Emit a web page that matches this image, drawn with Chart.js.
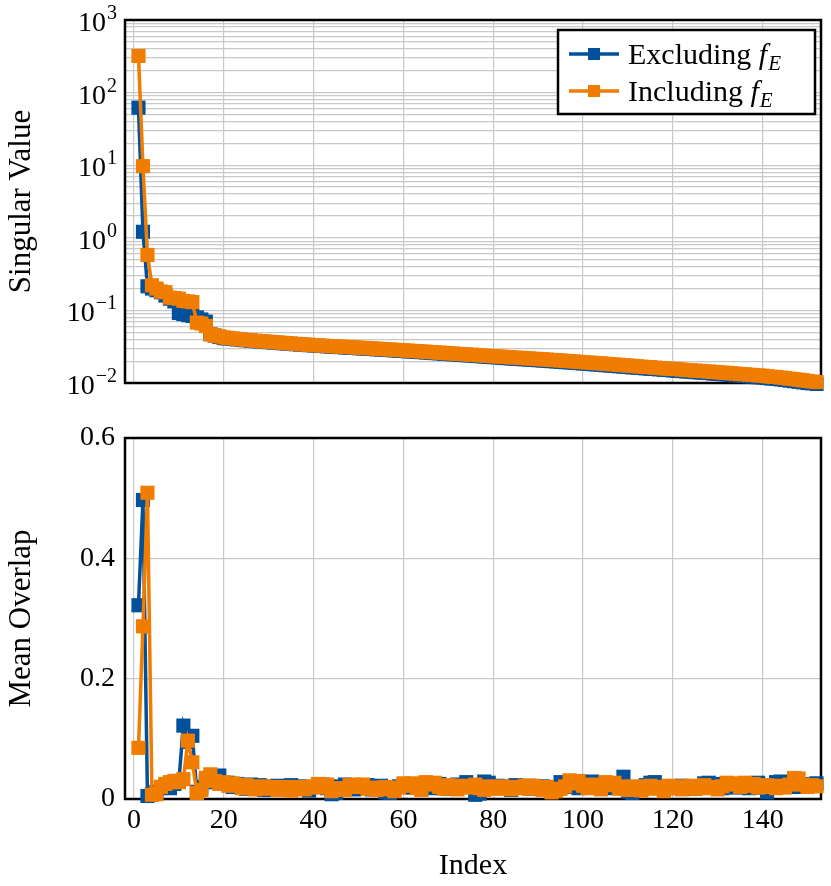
<!DOCTYPE html>
<html>
<head>
<meta charset="utf-8">
<script src="https://cdn.jsdelivr.net/npm/chart.js@4"></script>
<style>
  html, body { margin: 0; padding: 0; background: #fff; }
  #wrap { position: relative; width: 831px; height: 886px; }
  #topChart { position: absolute; left: 0; top: 0; }
  #bottomChart { position: absolute; left: 0; top: 400px; }
</style>
</head>
<body>
<div id="wrap">
  <canvas id="topChart" width="831" height="400"></canvas>
  <canvas id="bottomChart" width="831" height="486"></canvas>
</div>
<script>
const blue = "#00509b";
const orange = "#f07d00";
const seriesNames = ["Excluding", "Including"];

const xTicks = [0, 20, 40, 60, 80, 100, 120, 140];
const svTicks = [0.01, 0.1, 1, 10, 100, 1000];
const svExponents = ["\u22122", "\u22121", "0", "1", "2", "3"];
const overlapTicks = [0, 0.2, 0.4, 0.6];
const overlapTickLabels = ["0", "0.2", "0.4", "0.6"];

// singular values, index 1..152
const svExcluding = [
  62, 1.21, 0.215, 0.2, 0.19, 0.178, 0.16, 0.145, 0.133, 0.092,
  0.089, 0.086, 0.084, 0.08, 0.075, 0.07, 0.047, 0.045, 0.043, 0.0415,
  0.0410, 0.0404, 0.0398, 0.0392, 0.0387, 0.0382, 0.0377, 0.0373, 0.0369, 0.0365,
  0.0361, 0.0357, 0.0353, 0.0349, 0.0345, 0.0342, 0.0338, 0.0335, 0.0332, 0.0329,
  0.0326, 0.0323, 0.0320, 0.0317, 0.0314, 0.0312, 0.0309, 0.0306, 0.0304, 0.0301,
  0.0299, 0.0296, 0.0294, 0.0291, 0.0289, 0.0286, 0.0284, 0.0281, 0.0279, 0.0276,
  0.0273, 0.0271, 0.0268, 0.0266, 0.0263, 0.0261, 0.0258, 0.0256, 0.0253, 0.0251,
  0.0248, 0.0246, 0.0243, 0.0241, 0.0239, 0.0236, 0.0234, 0.0231, 0.0229, 0.0227,
  0.0225, 0.0222, 0.0220, 0.0218, 0.0216, 0.0214, 0.0212, 0.0210, 0.0208, 0.0206,
  0.0204, 0.0202, 0.0200, 0.0198, 0.0196, 0.0194, 0.0192, 0.0190, 0.0188, 0.0186,
  0.0184, 0.0182, 0.0180, 0.0178, 0.0176, 0.0174, 0.0172, 0.0170, 0.0168, 0.0166,
  0.0164, 0.0163, 0.0161, 0.0159, 0.0157, 0.0156, 0.0154, 0.0152, 0.0151, 0.0149,
  0.0147, 0.0146, 0.0144, 0.0143, 0.0141, 0.0140, 0.0138, 0.0137, 0.0135, 0.0134,
  0.0132, 0.0131, 0.0129, 0.0128, 0.0126, 0.0125, 0.0123, 0.0122, 0.0120, 0.0119,
  0.0117, 0.0115, 0.0114, 0.0112, 0.0110, 0.0108, 0.0106, 0.0104, 0.0102, 0.0100,
  0.0099, 0.0097
];
const svIncluding = [
  320, 9.7, 0.58, 0.222, 0.2, 0.182, 0.178, 0.15, 0.148, 0.145,
  0.135, 0.133, 0.13, 0.068, 0.066, 0.061, 0.047, 0.045, 0.044, 0.0425,
  0.0418, 0.0411, 0.0404, 0.0398, 0.0392, 0.0387, 0.0382, 0.0378, 0.0374, 0.0370,
  0.0366, 0.0362, 0.0358, 0.0354, 0.0350, 0.0346, 0.0342, 0.0339, 0.0336, 0.0333,
  0.0330, 0.0327, 0.0324, 0.0322, 0.0319, 0.0317, 0.0314, 0.0312, 0.0309, 0.0307,
  0.0305, 0.0302, 0.0300, 0.0297, 0.0295, 0.0292, 0.0290, 0.0287, 0.0285, 0.0282,
  0.0280, 0.0277, 0.0275, 0.0272, 0.0270, 0.0267, 0.0265, 0.0262, 0.0260, 0.0257,
  0.0255, 0.0252, 0.0250, 0.0248, 0.0245, 0.0243, 0.0241, 0.0238, 0.0236, 0.0234,
  0.0232, 0.0230, 0.0228, 0.0226, 0.0224, 0.0222, 0.0220, 0.0218, 0.0216, 0.0214,
  0.0212, 0.0210, 0.0208, 0.0206, 0.0204, 0.0202, 0.0200, 0.0198, 0.0196, 0.0194,
  0.0192, 0.0190, 0.0188, 0.0186, 0.0184, 0.0182, 0.0180, 0.0178, 0.0176, 0.0174,
  0.0172, 0.0170, 0.0168, 0.0166, 0.0165, 0.0163, 0.0161, 0.0159, 0.0158, 0.0156,
  0.0155, 0.0153, 0.0151, 0.0150, 0.0148, 0.0147, 0.0145, 0.0144, 0.0142, 0.0141,
  0.0139, 0.0138, 0.0136, 0.0135, 0.0133, 0.0132, 0.0130, 0.0129, 0.0127, 0.0126,
  0.0124, 0.0122, 0.0121, 0.0119, 0.0117, 0.0115, 0.0113, 0.0111, 0.0109, 0.0107,
  0.0105, 0.0103
];

// mean overlap, index 1..152
const ovExcluding = [
  0.322, 0.497, 0.005, 0.008, 0.012, 0.02, 0.022, 0.018, 0.025, 0.03,
  0.122, 0.095, 0.105, 0.012, 0.02, 0.03, 0.035, 0.028, 0.039, 0.025,
  0.027, 0.02, 0.025, 0.022, 0.017, 0.024, 0.02, 0.023, 0.015, 0.021,
  0.018, 0.022, 0.016, 0.02, 0.023, 0.017, 0.021, 0.019, 0.014, 0.02,
  0.022, 0.024, 0.018, 0.008, 0.01, 0.021, 0.024, 0.019, 0.016, 0.022,
  0.02, 0.023, 0.016, 0.02, 0.022, 0.011, 0.01, 0.018, 0.021, 0.02,
  0.024, 0.019, 0.023, 0.02, 0.022, 0.018, 0.021, 0.025, 0.02, 0.017,
  0.022, 0.024, 0.02, 0.028, 0.021, 0.007, 0.009, 0.029, 0.027, 0.02,
  0.022, 0.018, 0.021, 0.015, 0.023, 0.019, 0.02, 0.022, 0.017, 0.02,
  0.021, 0.016, 0.019, 0.02, 0.028, 0.027, 0.024, 0.02, 0.018, 0.021,
  0.02, 0.029, 0.025, 0.021, 0.018, 0.024, 0.02, 0.022, 0.037, 0.012,
  0.01, 0.02, 0.018, 0.023, 0.027, 0.028, 0.02, 0.016, 0.021, 0.02,
  0.018, 0.022, 0.019, 0.021, 0.017, 0.02, 0.026, 0.027, 0.025, 0.02,
  0.018, 0.022, 0.02, 0.019, 0.021, 0.02, 0.018, 0.026, 0.027, 0.019,
  0.011, 0.022, 0.028, 0.029, 0.027, 0.021, 0.02, 0.023, 0.022, 0.024,
  0.025, 0.026
];
const ovIncluding = [
  0.085, 0.287, 0.509, 0.007, 0.008, 0.02, 0.025, 0.028, 0.03, 0.028,
  0.033, 0.097, 0.061, 0.01, 0.015, 0.035, 0.041, 0.03, 0.025, 0.028,
  0.022, 0.026, 0.024, 0.018, 0.023, 0.021, 0.016, 0.02, 0.021, 0.017,
  0.02, 0.015, 0.019, 0.02, 0.014, 0.018, 0.02, 0.016, 0.019, 0.021,
  0.025, 0.019, 0.024, 0.013, 0.016, 0.018, 0.015, 0.023, 0.024, 0.02,
  0.024, 0.017, 0.019, 0.015, 0.018, 0.02, 0.016, 0.013, 0.019, 0.026,
  0.022, 0.026, 0.018, 0.015, 0.028, 0.024, 0.027, 0.02, 0.017, 0.023,
  0.02, 0.016, 0.022, 0.019, 0.021, 0.024, 0.018, 0.015, 0.021, 0.02,
  0.017, 0.021, 0.019, 0.016, 0.02, 0.018, 0.022, 0.017, 0.022, 0.019,
  0.015, 0.02, 0.011, 0.013, 0.017, 0.021, 0.031, 0.026, 0.03, 0.022,
  0.018, 0.024, 0.02, 0.016, 0.028, 0.023, 0.027, 0.017, 0.021, 0.015,
  0.018, 0.021, 0.014, 0.019, 0.022, 0.017, 0.02, 0.013, 0.022, 0.018,
  0.021, 0.016, 0.02, 0.022, 0.017, 0.019, 0.023, 0.018, 0.02, 0.016,
  0.021, 0.027, 0.024, 0.026, 0.02, 0.027, 0.022, 0.025, 0.019, 0.021,
  0.023, 0.02, 0.018, 0.022, 0.019, 0.024, 0.035, 0.034, 0.024, 0.02,
  0.023, 0.021
];

const serif = "'Liberation Serif', 'Times New Roman', serif";
const gridColor = "#c8c8c8";

function makeSet(label, values, color, order) {
  return {
    label: label,
    data: values.map((v, i) => ({ x: i + 1, y: v })),
    borderColor: color,
    backgroundColor: color,
    borderWidth: 3.5,
    borderJoinStyle: "miter",
    pointStyle: "rect",
    pointRadius: 10,
    pointBorderWidth: 0,
    pointHoverRadius: 10,
    order: order,
    clip: false,
  };
}

// black frame round the plot area, under the marks
const frame = {
  id: "frame",
  beforeDatasetsDraw(chart) {
    const a = chart.chartArea;
    const ctx = chart.ctx;
    ctx.save();
    ctx.strokeStyle = "#000";
    ctx.lineWidth = 2.5;
    ctx.strokeRect(a.left, a.top, a.right - a.left, a.bottom - a.top);
    ctx.restore();
  },
};

// 10^n tick labels for the log axis
const powerLabels = {
  id: "powerLabels",
  afterDraw(chart) {
    const ctx = chart.ctx;
    const y = chart.scales.y;
    ctx.save();
    ctx.fillStyle = "#000";
    ctx.textAlign = "right";
    ctx.textBaseline = "alphabetic";
    svTicks.forEach((v, i) => {
      const py = y.getPixelForValue(v);
      ctx.font = "20px " + serif;
      const ew = ctx.measureText(svExponents[i]).width;
      ctx.fillText(svExponents[i], 117, py - 1);
      ctx.font = "28px " + serif;
      ctx.fillText("10", 116 - ew, py + 11);
    });
    ctx.restore();
  },
};

// legend box with italic f_E
const legendBox = {
  id: "legendBox",
  afterDraw(chart) {
    const ctx = chart.ctx;
    ctx.save();
    ctx.fillStyle = "#fff";
    ctx.fillRect(558, 30, 257, 84);
    ctx.strokeStyle = "#000";
    ctx.lineWidth = 2.5;
    ctx.strokeRect(558, 30, 257, 84);
    const rows = [54, 91];
    chart.data.datasets.forEach((ds, i) => {
      const ry = rows[i];
      ctx.strokeStyle = ds.borderColor;
      ctx.lineWidth = 3.5;
      ctx.beginPath();
      ctx.moveTo(569, ry);
      ctx.lineTo(619, ry);
      ctx.stroke();
      ctx.fillStyle = ds.borderColor;
      ctx.fillRect(588, ry - 6, 12, 12);
      ctx.fillStyle = "#000";
      ctx.textAlign = "left";
      ctx.textBaseline = "alphabetic";
      ctx.font = "30px " + serif;
      const label = ds.label + " ";
      ctx.fillText(label, 628, ry + 10);
      let x = 628 + ctx.measureText(label).width;
      ctx.font = "italic 30px " + serif;
      ctx.fillText("f", x, ry + 10);
      x += ctx.measureText("f").width + 1;
      ctx.font = "italic 21px " + serif;
      ctx.fillText("E", x, ry + 16);
    });
    ctx.restore();
  },
};

function xScale(showLabels) {
  return {
    type: "linear",
    min: -2,
    max: 153,
    afterBuildTicks: (s) => { s.ticks = xTicks.map((v) => ({ value: v })); },
    afterFit: (s) => { s.height = showLabels ? 87 : 17; },
    grid: { color: gridColor, lineWidth: 1.2, drawTicks: false },
    border: { display: false },
    ticks: {
      display: showLabels,
      padding: 5,
      color: "#000",
      font: { family: serif, size: 28 },
      maxRotation: 0,
    },
    title: {
      display: showLabels,
      text: "Index",
      color: "#000",
      font: { family: serif, size: 30 },
      padding: { top: 0, bottom: 2 },
    },
  };
}

const svGrid = [];
svTicks.slice(0, -1).forEach((base) => {
  for (let m = 1; m < 10; m++) svGrid.push(base * m);
});
svGrid.push(svTicks[svTicks.length - 1]);

const topChart = new Chart(document.getElementById("topChart"), {
  type: "line",
  data: {
    datasets: [
      makeSet(seriesNames[0], svExcluding, blue, 1),
      makeSet(seriesNames[1], svIncluding, orange, 0),
    ],
  },
  options: {
    responsive: false,
    animation: false,
    devicePixelRatio: 1,
    layout: { padding: { top: 20, right: 4, left: 0, bottom: 0 } },
    plugins: { legend: { display: false }, tooltip: { enabled: false } },
    scales: {
      x: xScale(false),
      y: {
        type: "logarithmic",
        min: 0.01,
        max: 1000,
        afterBuildTicks: (s) => { s.ticks = svGrid.map((v) => ({ value: v })); },
        afterFit: (s) => { s.width = 125; },
        grid: { color: gridColor, lineWidth: 1.2, drawTicks: false },
        border: { display: false },
        ticks: { display: false },
        title: {
          display: true,
          text: "Singular Value",
          color: "#000",
          font: { family: serif, size: 31 },
          padding: { top: 3 },
        },
      },
    },
  },
  plugins: [frame, powerLabels, legendBox],
});

const bottomChart = new Chart(document.getElementById("bottomChart"), {
  type: "line",
  data: {
    datasets: [
      makeSet(seriesNames[0], ovExcluding, blue, 1),
      makeSet(seriesNames[1], ovIncluding, orange, 0),
    ],
  },
  options: {
    responsive: false,
    animation: false,
    devicePixelRatio: 1,
    layout: { padding: { top: 38, right: 4, left: 0, bottom: 0 } },
    plugins: { legend: { display: false }, tooltip: { enabled: false } },
    scales: {
      x: xScale(true),
      y: {
        type: "linear",
        min: 0,
        max: 0.6,
        afterBuildTicks: (s) => { s.ticks = overlapTicks.map((v) => ({ value: v })); },
        afterFit: (s) => { s.width = 125; },
        grid: { color: gridColor, lineWidth: 1.2, drawTicks: false },
        border: { display: false },
        ticks: {
          padding: 10,
          color: "#000",
          font: { family: serif, size: 28 },
          callback: (v, i) => overlapTickLabels[i],
        },
        title: {
          display: true,
          text: "Mean Overlap",
          color: "#000",
          font: { family: serif, size: 31 },
          padding: { top: 3 },
        },
      },
    },
  },
  plugins: [frame],
});
</script>
</body>
</html>
